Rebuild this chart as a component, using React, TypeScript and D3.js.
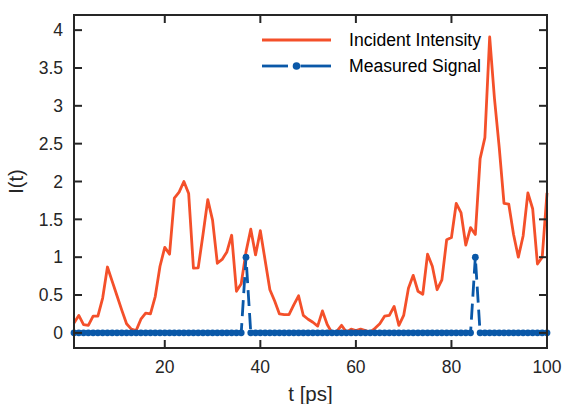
import React from "react";
import * as d3 from "d3";

const tValues: number[] = d3.range(1, 101);

const intensity: number[] = [
  0.13, 0.23, 0.11, 0.10, 0.22, 0.22, 0.46, 0.87, 0.68, 0.49,
  0.30, 0.12, 0.05, 0.03, 0.18, 0.26, 0.25, 0.48, 0.88, 1.13,
  1.04, 1.78, 1.86, 2.00, 1.84, 0.855, 0.86, 1.30, 1.76, 1.49,
  0.92, 0.97, 1.07, 1.29, 0.55, 0.65, 1.07, 1.37, 1.03, 1.35,
  0.96, 0.57, 0.42, 0.25, 0.24, 0.24, 0.37, 0.49, 0.23, 0.18,
  0.14, 0.09, 0.29, 0.11, 0.00, 0.02, 0.10, 0.01, 0.05, 0.03,
  0.05, 0.03, 0.01, 0.06, 0.12, 0.22, 0.23, 0.35, 0.10, 0.23,
  0.59, 0.76, 0.55, 0.51, 1.04, 0.88, 0.57, 0.70, 1.23, 1.26,
  1.71, 1.59, 1.16, 1.39, 1.30, 2.30, 2.58, 3.91, 3.10, 2.45,
  1.71, 1.70, 1.30, 1.00, 1.28, 1.85, 1.64, 0.91, 1.00, 1.85,
];

const measured: number[] = [
  0, 0, 0, 0, 0, 0, 0, 0, 0, 0,
  0, 0, 0, 0, 0, 0, 0, 0, 0, 0,
  0, 0, 0, 0, 0, 0, 0, 0, 0, 0,
  0, 0, 0, 0, 0, 0, 1, 0, 0, 0,
  0, 0, 0, 0, 0, 0, 0, 0, 0, 0,
  0, 0, 0, 0, 0, 0, 0, 0, 0, 0,
  0, 0, 0, 0, 0, 0, 0, 0, 0, 0,
  0, 0, 0, 0, 0, 0, 0, 0, 0, 0,
  0, 0, 0, 0, 1, 0, 0, 0, 0, 0,
  0, 0, 0, 0, 0, 0, 0, 0, 0, 0,
];

const xTicks: number[] = [20, 40, 60, 80, 100];
const yTicks: number[] = [0, 0.5, 1, 1.5, 2, 2.5, 3, 3.5, 4];
const yTickLabels: string[] = ["0", "0.5", "1", "1.5", "2", "2.5", "3", "3.5", "4"];
const seriesNames: string[] = ["Incident Intensity", "Measured Signal"];

const RED = "#F4502A";
const BLUE = "#0A58A8";
const AXIS = "#262626";
const FONT = "'Liberation Sans', Arial, Helvetica, sans-serif";

export default function App() {
  const W = 564, H = 404;
  const L = 74, R = 547, T = 15, B = 348;
  const x = d3.scaleLinear().domain([1, 100]).range([L, R]);
  const y = d3.scaleLinear().domain([-0.2, 4.2]).range([B, T]);
  const tick = 8;

  const redPath = d3.line<number>().x((_, i) => x(tValues[i])).y((d) => y(d))(intensity) || "";
  const bluePath = d3.line<number>().x((_, i) => x(tValues[i])).y((d) => y(d))(measured) || "";

  const legX1 = 262, legX2 = 331, legTextX = 349;
  const legY1 = 40, legY2 = 66;

  return (
    <svg width={W} height={H} style={{ position: "absolute", left: 0, top: 0, background: "#fff" }} fontFamily={FONT}>
      <rect x={0} y={0} width={W} height={H} fill="#fff" />
      <path d={redPath} fill="none" stroke={RED} strokeWidth={2.8} strokeLinejoin="round" />
      <path d={bluePath} fill="none" stroke={BLUE} strokeWidth={2.8} strokeDasharray="16,7" />
      {measured.map((d, i) => (
        <circle key={i} cx={x(tValues[i])} cy={y(d)} r={3.4} fill={BLUE} />
      ))}

      {/* frame */}
      <rect x={L} y={T} width={R - L} height={B - T} fill="none" stroke={AXIS} strokeWidth={2} />
      {xTicks.map((t) => (
        <g key={"x" + t}>
          <line x1={x(t)} x2={x(t)} y1={B} y2={B - tick} stroke={AXIS} strokeWidth={2} />
          <line x1={x(t)} x2={x(t)} y1={T} y2={T + tick} stroke={AXIS} strokeWidth={2} />
          <text x={x(t)} y={373} textAnchor="middle" fontSize={17.5} fill={AXIS}>{t}</text>
        </g>
      ))}
      {yTicks.map((v, i) => (
        <g key={"y" + v}>
          <line x1={L} x2={L + tick} y1={y(v)} y2={y(v)} stroke={AXIS} strokeWidth={2} />
          <line x1={R} x2={R - tick} y1={y(v)} y2={y(v)} stroke={AXIS} strokeWidth={2} />
          <text x={63} y={y(v)} dy="0.36em" textAnchor="end" fontSize={17.5} fill={AXIS}>{yTickLabels[i]}</text>
        </g>
      ))}

      <text x={(L + R) / 2} y={401} textAnchor="middle" fontSize={20.5} fill={AXIS}>t [ps]</text>
      <text transform={`translate(23, ${(T + B) / 2}) rotate(-90)`} textAnchor="middle" fontSize={20} fill={AXIS}>I(t)</text>

      {/* legend */}
      <line x1={legX1} x2={legX2} y1={legY1} y2={legY1} stroke={RED} strokeWidth={2.8} />
      <text x={legTextX} y={legY1} dy="0.36em" fontSize={17.6} fill="#000">{seriesNames[0]}</text>
      <line x1={legX1} x2={legX1 + 26} y1={legY2} y2={legY2} stroke={BLUE} strokeWidth={2.8} />
      <line x1={(legX1 + legX2) / 2 + 4} x2={legX2} y1={legY2} y2={legY2} stroke={BLUE} strokeWidth={2.8} />
      <circle cx={(legX1 + legX2) / 2} cy={legY2} r={3.8} fill={BLUE} />
      <text x={legTextX} y={legY2} dy="0.36em" fontSize={17.6} fill="#000">{seriesNames[1]}</text>
    </svg>
  );
}
